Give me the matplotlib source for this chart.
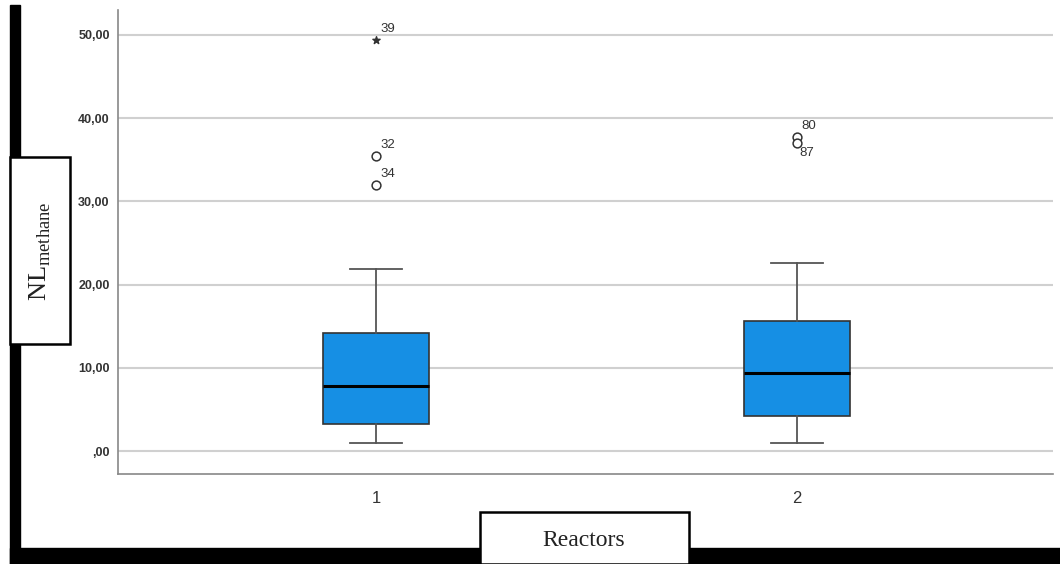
import matplotlib
matplotlib.use('Agg')
import matplotlib.pyplot as plt
from matplotlib.patches import Rectangle

# boxplot summary values
reactors = ['1', '2']
q1 = [3.25, 4.2]
medians = [7.8, 9.4]
q3 = [14.15, 15.65]
whisker_low = [1.0, 1.0]
whisker_high = [21.9, 22.55]

# outliers (circles) and extremes (stars) with their case numbers
outlier_group = [1, 1, 2, 2]
outlier_vals = [35.45, 31.95, 37.7, 37.0]
outlier_ids = ['32', '34', '80', '87']
extreme_group = [1]
extreme_vals = [49.4]
extreme_ids = ['39']

yticks = [0, 10, 20, 30, 40, 50]
ytick_labels = [',00', '10,00', '20,00', '30,00', '40,00', '50,00']

plt.rcParams['font.family'] = ['Liberation Sans', 'DejaVu Sans']
plt.rcParams['mathtext.fontset'] = 'custom'
plt.rcParams['mathtext.rm'] = 'Liberation Serif'

fig = plt.figure(figsize=(10.6, 5.64), dpi=100)
W, H = 1060, 564
ax = fig.add_axes([118 / W, 1 - 474 / H, (1053 - 118) / W, (474 - 10) / H])

stats = []
for i in range(len(reactors)):
    stats.append({'med': medians[i], 'q1': q1[i], 'q3': q3[i],
                  'whislo': whisker_low[i], 'whishi': whisker_high[i],
                  'fliers': [], 'label': reactors[i]})

ax.bxp(stats, positions=[1, 2], widths=0.252, patch_artist=True, showfliers=False,
       boxprops=dict(facecolor='#168fe4', edgecolor='#333333', linewidth=1.2),
       medianprops=dict(color='black', linewidth=2.2),
       whiskerprops=dict(color='#555555', linewidth=1.3),
       capprops=dict(color='#555555', linewidth=1.3),
       capwidths=0.124, zorder=3)

ax.scatter(outlier_group, outlier_vals, s=40, facecolors='white', edgecolors='#333333',
           linewidths=1.1, zorder=4)
ax.scatter(extreme_group, extreme_vals, s=30, marker='*', color='#333333', zorder=4)

# case labels
for g, v, t in zip(outlier_group, outlier_vals, outlier_ids):
    if t == '87':
        ax.annotate(t, (g, v), xytext=(2, -7), textcoords='offset points',
                    fontsize=9.5, color='#333333', va='center', ha='left')
    else:
        ax.annotate(t, (g, v), xytext=(3, 8), textcoords='offset points',
                    fontsize=9.5, color='#333333', va='center', ha='left')
for g, v, t in zip(extreme_group, extreme_vals, extreme_ids):
    ax.annotate(t, (g, v), xytext=(3, 8), textcoords='offset points',
                fontsize=9.5, color='#333333', va='center', ha='left')

ax.set_xlim(0.387, 2.608)
ax.set_ylim(-2.76, 53.0)
ax.set_xticks([1, 2])
ax.set_xticklabels(reactors, fontsize=12, color='#333333')
ax.set_yticks(yticks)
ax.set_yticklabels(ytick_labels, fontsize=9, color='#333333', fontweight='bold')
ax.tick_params(length=0, pad=6)
ax.tick_params(axis='x', pad=12)
ax.grid(axis='y', color='#d0d0d0', linewidth=1.5, zorder=0)
ax.set_axisbelow(True)
for s in ['top', 'right']:
    ax.spines[s].set_visible(False)
for s in ['left', 'bottom']:
    ax.spines[s].set_color('#888888')
    ax.spines[s].set_linewidth(1.2)

# black frame bars and label boxes
fig.patches.append(Rectangle((10 / W, 0), 10 / W, 1 - 5 / H, transform=fig.transFigure,
                             color='black', zorder=5))
fig.patches.append(Rectangle((10 / W, 0), 1, 16 / H, transform=fig.transFigure,
                             color='black', zorder=5))
fig.patches.append(Rectangle((10 / W, 1 - 344 / H), 60 / W, 187 / H, transform=fig.transFigure,
                             facecolor='white', edgecolor='black', linewidth=1.8, zorder=6))
fig.patches.append(Rectangle((480 / W, 0), 209 / W, 52 / H, transform=fig.transFigure,
                             facecolor='white', edgecolor='black', linewidth=1.8, zorder=6))

fig.text(40 / W, 1 - 251 / H, r'$\mathrm{NL}_{\mathrm{methane}}$', rotation=90,
         fontsize=19, ha='center', va='center', color='#222222', zorder=7)
fig.text(584 / W, 1 - 540 / H, 'Reactors', family='Liberation Serif',
         fontsize=17, ha='center', va='center', color='#222222', zorder=7)

fig.savefig('out.png', dpi=100)
